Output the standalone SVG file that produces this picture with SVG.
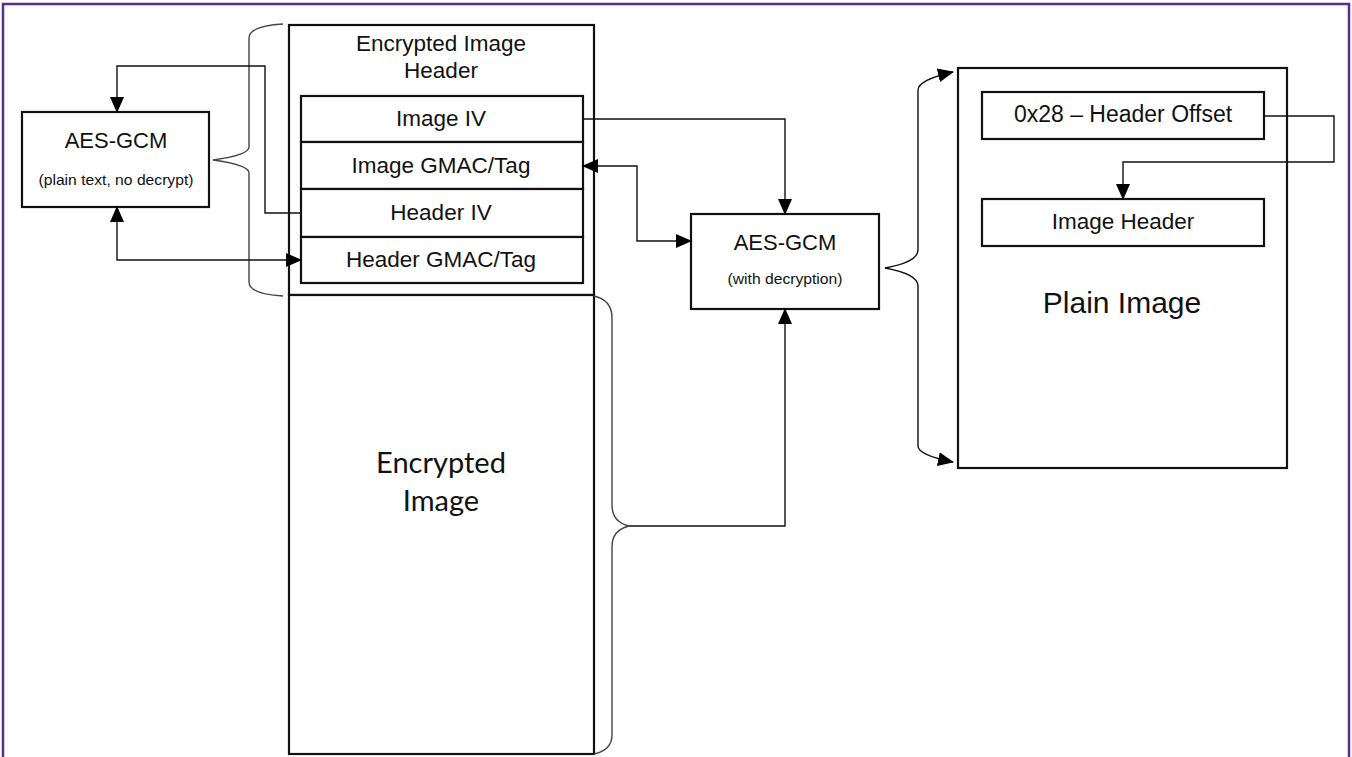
<svg xmlns="http://www.w3.org/2000/svg" width="1352" height="757" viewBox="0 0 1352 757">
<defs>
<marker id="arr" markerUnits="userSpaceOnUse" markerWidth="16" markerHeight="14" viewBox="0 0 16 14" refX="15" refY="7" orient="auto-start-reverse">
<path d="M0,0 L16,7 L0,14 Z" fill="#000"/>
</marker>
<style>
.box{fill:#fff;stroke:#111;stroke-width:2.2}
.conn{fill:none;stroke:#111;stroke-width:1.4}
.brace{fill:none;stroke:#444;stroke-width:1.4}
.t{font-family:"Liberation Sans",Arial,sans-serif;fill:#111;text-anchor:middle}
.c{font-family:Lato,"Open Sans",sans-serif;fill:#111;text-anchor:middle}
</style>
</defs>
<rect x="0" y="0" width="1352" height="757" fill="#fff"/>
<rect x="3" y="4" width="1346" height="800" fill="none" stroke="#5b2d8e" stroke-width="2.5"/>

<g id="enc-header">
<rect class="box" x="289" y="25" width="305" height="270"/>
<text class="t" x="441" y="51" font-size="22.5">Encrypted Image</text>
<text class="t" x="441" y="78" font-size="22.5">Header</text>
</g>
<g id="image-iv">
<rect class="box" x="301" y="96" width="282" height="46"/>
<text class="t" x="441" y="126" font-size="22.5">Image IV</text>
</g>
<g id="image-gmac">
<rect class="box" x="301" y="142" width="282" height="47"/>
<text class="t" x="441" y="173" font-size="22.5">Image GMAC/Tag</text>
</g>
<g id="header-iv">
<rect class="box" x="301" y="189" width="282" height="48"/>
<text class="t" x="441" y="220" font-size="22.5">Header IV</text>
</g>
<g id="header-gmac">
<rect class="box" x="301" y="237" width="282" height="46"/>
<text class="t" x="441" y="267" font-size="22.5">Header GMAC/Tag</text>
</g>
<g id="enc-image">
<rect class="box" x="289" y="295" width="305" height="459"/>
<text class="c" x="441" y="473" font-size="29">Encrypted</text>
<text class="c" x="441" y="511" font-size="29">Image</text>
</g>
<g id="aes-left">
<rect class="box" x="22" y="112" width="187" height="95"/>
<text class="t" x="116" y="148" font-size="22">AES-GCM</text>
<text class="t" x="116" y="185" font-size="14.5" textLength="155" lengthAdjust="spacingAndGlyphs">(plain text, no decrypt)</text>
</g>
<g id="aes-mid">
<rect class="box" x="691" y="214" width="188" height="95"/>
<text class="t" x="785" y="250" font-size="22">AES-GCM</text>
<text class="t" x="785" y="284" font-size="14.5" textLength="115" lengthAdjust="spacingAndGlyphs">(with decryption)</text>
</g>
<g id="plain-image">
<rect class="box" x="958" y="68" width="329" height="400"/>
<text class="t" x="1122" y="313" font-size="30">Plain Image</text>
</g>
<g id="header-offset">
<rect class="box" x="982" y="92" width="282" height="47"/>
<text class="t" x="1123" y="122" font-size="23">0x28 – Header Offset</text>
</g>
<g id="image-header">
<rect class="box" x="982" y="199" width="282" height="47"/>
<text class="t" x="1123" y="229" font-size="22.5">Image Header</text>
</g>

<g id="connectors">
<path class="brace" d="M283,24 Q249,26 249,38 V147 Q249,155 213,160 Q249,165 249,173 V282 Q249,294 283,296"/>
<path class="brace" d="M594,296 Q612,300 612,318 V505 Q612,522 629,526 Q612,530 612,547 V735 Q612,750 594,754"/>
<path class="conn" d="M885,268 Q918,262 918,250 V90 Q918,80 953,72" marker-end="url(#arr)"/>
<path class="conn" d="M885,268 Q918,274 918,286 V446 Q918,455 953,462" marker-end="url(#arr)"/>
<path class="conn" d="M301,213 H265 V66 H117 V112" marker-end="url(#arr)"/>
<path class="conn" d="M117,207 V260 H301" marker-start="url(#arr)" marker-end="url(#arr)"/>
<path class="conn" d="M583,119 H785 V214" marker-end="url(#arr)"/>
<path class="conn" d="M583,166 H637 V241 H691" marker-start="url(#arr)" marker-end="url(#arr)"/>
<path class="conn" d="M629,526 H785 V309" marker-end="url(#arr)"/>
<path class="conn" d="M1264,116 H1334 V162 H1123 V199" marker-end="url(#arr)"/>
</g>
</svg>
